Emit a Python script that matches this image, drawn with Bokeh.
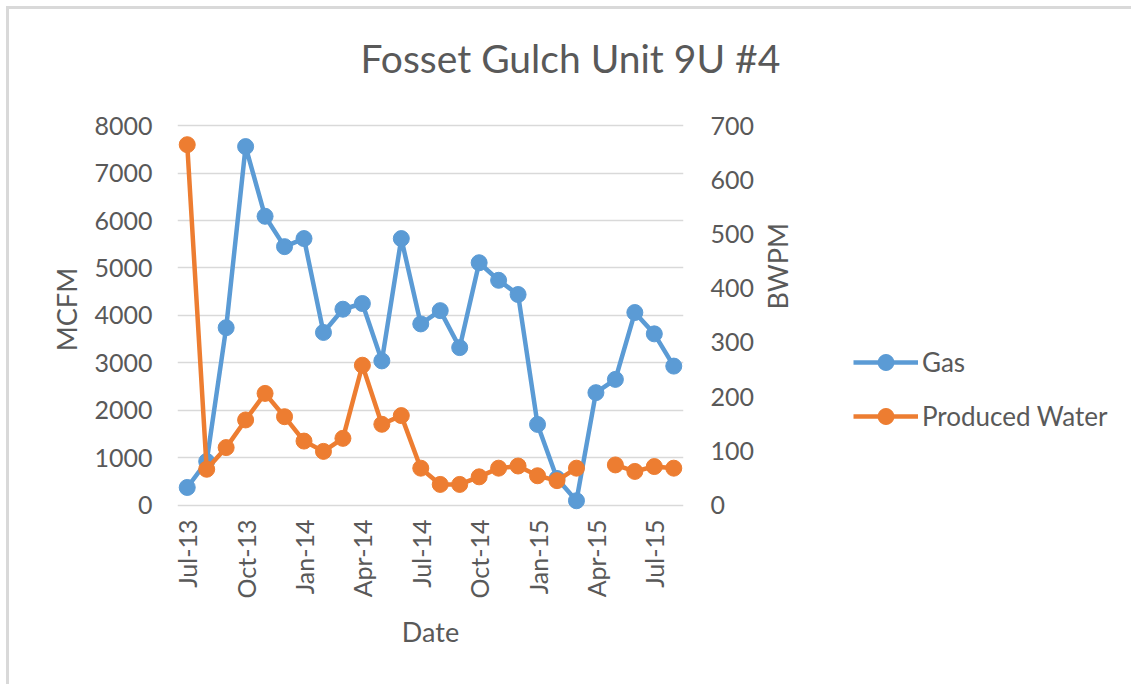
import math
from bokeh.plotting import figure
from bokeh.layouts import row, column
from bokeh.models import (Range1d, LinearAxis, FixedTicker, Legend, LegendItem, Title)
from bokeh.embed import file_html
from bokeh.resources import INLINE

# ---- data ----
months = ["Jul-13", "Aug-13", "Sep-13", "Oct-13", "Nov-13", "Dec-13",
          "Jan-14", "Feb-14", "Mar-14", "Apr-14", "May-14", "Jun-14",
          "Jul-14", "Aug-14", "Sep-14", "Oct-14", "Nov-14", "Dec-14",
          "Jan-15", "Feb-15", "Mar-15", "Apr-15", "May-15", "Jun-15",
          "Jul-15", "Aug-15"]
gas = [370, 920, 3740, 7560, 6090, 5450, 5620, 3640, 4130, 4250, 3040, 5620,
       3820, 4100, 3320, 5110, 4740, 4440, 1700, 560, 90, 2370, 2650, 4060,
       3610, 2930]
water = [665, 66, 106, 157, 206, 163, 118, 99, 123, 258, 149, 165,
         68, 38, 38, 52, 68, 72, 54, 45, 68, float("nan"), 74, 62,
         71, 68]
left_ticks = [0, 1000, 2000, 3000, 4000, 5000, 6000, 7000, 8000]
right_ticks = [0, 100, 200, 300, 400, 500, 600, 700]
label_every = 3

x = list(range(len(months)))

FONT = "Lato"
TXT = "#595959"
BLUE = "#5B9BD5"
ORANGE = "#ED7D31"
GRID = "#D9D9D9"

ymin, ymax = -200, 8448
ratio = 700 / 8000
H = 675

p = figure(width=830, height=H, output_backend="svg", toolbar_location=None,
           x_range=Range1d(-0.5, len(months) - 0.5),
           y_range=Range1d(ymin, ymax),
           min_border_left=168, min_border_right=156,
           min_border_top=94, min_border_bottom=170)
p.title = None
p.outline_line_color = None
p.background_fill_color = "white"
p.border_fill_color = "white"

p.extra_y_ranges = {"water": Range1d(ymin * ratio, ymax * ratio)}

# grid
p.xgrid.grid_line_color = None
p.ygrid.ticker = FixedTicker(ticks=left_ticks)
p.ygrid.grid_line_color = GRID
p.ygrid.grid_line_width = 1.3

def style_axis(ax):
    ax.axis_line_color = None
    ax.major_tick_line_color = None
    ax.minor_tick_line_color = None
    ax.major_tick_out = 0
    ax.major_tick_in = 0
    ax.major_label_text_font = FONT
    ax.major_label_text_font_size = "25px"
    ax.major_label_text_color = TXT
    ax.axis_label_text_font = FONT
    ax.axis_label_text_font_size = "27px"
    ax.axis_label_text_color = TXT
    ax.axis_label_text_font_style = "normal"

# x axis
xa = p.xaxis[0]
style_axis(xa)
xa.ticker = FixedTicker(ticks=x[::label_every])
xa.major_label_overrides = {i: months[i] for i in x[::label_every]}
xa.major_label_orientation = math.pi / 2
xa.major_label_standoff = 5
xa.axis_label = "Date"
xa.axis_label_standoff = 13

# left axis
ya = p.yaxis[0]
style_axis(ya)
ya.ticker = FixedTicker(ticks=left_ticks)
ya.major_label_standoff = 25
ya.axis_label = "MCFM"
ya.axis_label_standoff = 8

# right axis
ra = LinearAxis(y_range_name="water", axis_label="BWPM")
style_axis(ra)
ra.ticker = FixedTicker(ticks=right_ticks)
ra.major_label_standoff = 27
ra.axis_label_standoff = 20
ra.axis_label_orientation = math.pi / 2
p.add_layout(ra, "right")

# series
p.line(x, gas, line_color=BLUE, line_width=4.5)
p.scatter(x, gas, size=16, fill_color=BLUE, line_color=BLUE)
p.line(x, water, line_color=ORANGE, line_width=4.5, y_range_name="water")
p.scatter(x, water, size=16, fill_color=ORANGE, line_color=ORANGE,
          y_range_name="water")

# title
t = Title(text="Fosset Gulch Unit 9U #4", align="left", offset=183,
          text_font=FONT, text_font_size="39px", text_color=TXT,
          text_font_style="normal", standoff=47)
p.add_layout(t, "above")

# legend panel (separate figure, same series, legend only)
q = figure(width=292, height=H, output_backend="svg", toolbar_location=None,
           x_range=Range1d(-10, -9), y_range=Range1d(ymin, ymax),
           x_axis_type=None, y_axis_type=None,
           min_border_left=0, min_border_right=0,
           min_border_top=0, min_border_bottom=0)
q.title = None
q.outline_line_color = None
q.xgrid.visible = False
q.ygrid.visible = False
q.border_fill_color = "white"
gl = q.line(x, gas, line_color=BLUE, line_width=4.5)
gs = q.scatter(x, gas, size=16, fill_color=BLUE, line_color=BLUE)
wl = q.line(x, water, line_color=ORANGE, line_width=4.5)
ws = q.scatter(x, water, size=16, fill_color=ORANGE, line_color=ORANGE)

legend = Legend(items=[LegendItem(label="Gas", renderers=[gl, gs]),
                       LegendItem(label="Produced Water", renderers=[wl, ws])],
                location=(14, 78), orientation="vertical",
                padding=0, margin=0, spacing=14,
                glyph_width=65, glyph_height=40, label_height=40,
                label_standoff=4,
                label_text_font=FONT, label_text_font_size="26px",
                label_text_color=TXT,
                background_fill_alpha=0, border_line_color=None)
q.add_layout(legend, "center")

inner = row(p, q, spacing=0)
inner.styles = {"border-left": "3px solid #D9D9D9", "border-top": "3px solid #D9D9D9"}
outer = column(inner)
outer.styles = {"padding-left": "6px", "padding-top": "6px"}

open("out.html", "w").write(file_html(outer, INLINE))
